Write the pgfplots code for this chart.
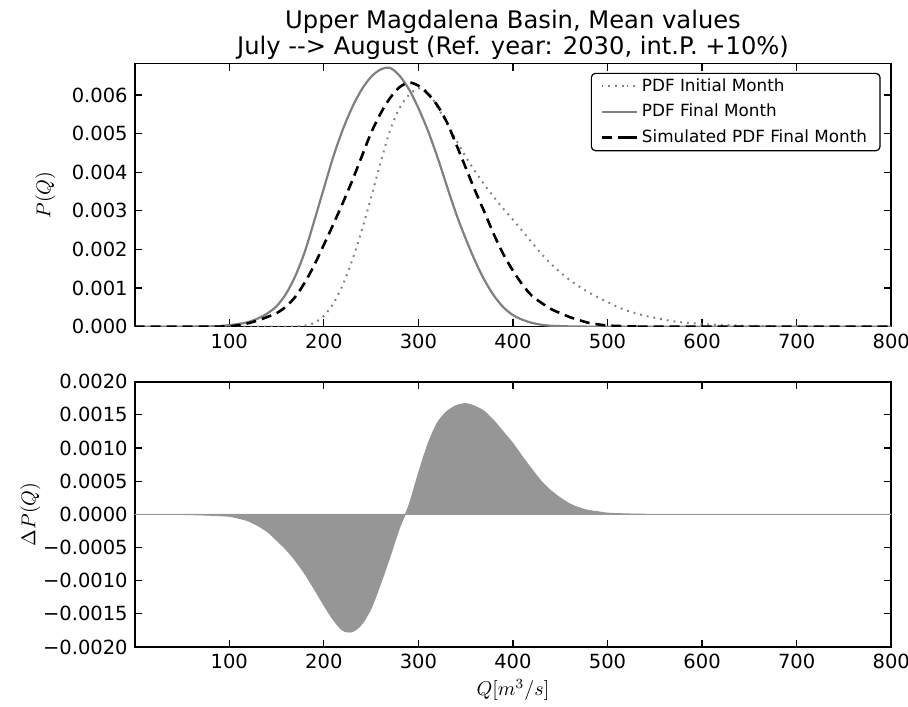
\documentclass[border=0pt]{standalone}
\usepackage{fontspec}
\setmainfont{DejaVu Sans}
\usepackage{pgfplots}
\pgfplotsset{compat=1.18}
\definecolor{lgray}{RGB}{128,128,128}
\definecolor{fgray}{RGB}{150,150,150}
\begin{document}
\begin{tikzpicture}
\path[use as bounding box] (0,0) rectangle (454pt,353pt);
\node[anchor=base, inner sep=0pt, font=\fontsize{12.1}{14}\selectfont] at (256.5pt,338.75pt) {Upper Magdalena Basin, Mean values};
\node[anchor=base, inner sep=0pt, font=\fontsize{12.1}{14}\selectfont] at (256.5pt,325.5pt) {July -\kern0pt-> August (Ref. year: 2030, int.P. +10\%)};
\pgfplotsset{
  myax/.style={
    scale only axis, width=378.25pt, anchor=south west,
    xmin=0, xmax=800,
    xtick={100,200,300,400,500,600,700,800},
    xticklabels={100,200,300,400,500,600,700,800},
    scaled y ticks=false, scaled x ticks=false,
    tick label style={font=\fontsize{9.75}{12}\selectfont},
    major tick length=3.6pt,
    tick style={black, line width=0.6pt},
    axis line style={line width=0.8pt},
    tick align=inside,
    label style={font=\fontsize{10}{12}\selectfont},
  }
}
\begin{axis}[myax, at={(67.35pt,189.65pt)}, height=131.7pt,
  ymin=0, ymax=0.00682,
  ytick={0,0.001,0.002,0.003,0.004,0.005,0.006},
  yticklabels={0.000,0.001,0.002,0.003,0.004,0.005,0.006},
  ylabel={$P(Q)$},
  ylabel style={at={(axis description cs:-0.118,0.5)}, anchor=center},
  legend style={at={(0.986,0.964)}, anchor=north east, draw=black, line width=0.6pt,
    rounded corners=2pt, font=\fontsize{8.4}{10}\selectfont,
    inner xsep=4.5pt, inner ysep=0.5pt, row sep=1pt, cells={anchor=west}},
  legend image code/.code={\draw[#1] (0pt,0pt) -- (12.5pt,0pt); \path (12.5pt,0pt) -- (17.5pt,0pt);},
  legend cell align=left,
]
\addplot[lgray, line width=1pt, dash pattern=on 0.9pt off 2.5pt, smooth] coordinates {
(0,0) (100,0) (160,0) (170,0.000005) (180,0.00003) (190,0.0001) (200,0.00028) (210,0.0006) (220,0.00108) (230,0.00172) (240,0.00248) (250,0.00335) (260,0.00425) (270,0.00508) (280,0.00566) (290,0.006) (300,0.00617) (310,0.00608) (320,0.0057) (330,0.00527) (340,0.00483) (350,0.0044) (360,0.00402) (370,0.00367) (380,0.00335) (390,0.00305) (400,0.00277) (410,0.00248) (420,0.00218) (430,0.00189) (440,0.00163) (450,0.00141) (460,0.00121) (470,0.00104) (480,0.00089) (490,0.00076) (500,0.00064) (510,0.00052) (520,0.00042) (530,0.00035) (540,0.00028) (550,0.00023) (560,0.00018) (570,0.00014) (580,0.00011) (590,0.00009) (600,0.00007) (620,0.000045) (640,0.000028) (660,0.000017) (680,0.00001) (700,0.000006) (740,0.000002) (800,0.0000005)
};
\addlegendentry{PDF Initial Month}
\addplot[lgray, line width=1.1pt, smooth] coordinates {
(0,0) (40,0.0000005) (60,0.000002) (80,0.000008) (90,0.000018) (100,0.00004) (110,0.00007) (120,0.00012) (130,0.00021) (140,0.00034) (150,0.00053) (160,0.00085) (170,0.00132) (180,0.00195) (190,0.00275) (200,0.00358) (210,0.0044) (220,0.0051) (230,0.00568) (240,0.00614) (250,0.00647) (260,0.00666) (270,0.0067) (280,0.0065) (290,0.00615) (300,0.00566) (310,0.00508) (320,0.0044) (330,0.00365) (340,0.00292) (350,0.00228) (360,0.0017) (370,0.0012) (380,0.0008) (390,0.0005) (400,0.0003) (410,0.00018) (420,0.0001) (430,0.00005) (440,0.000025) (460,0.000008) (480,0.000002) (500,0.0000005) (520,0) (800,0)
};
\addlegendentry{PDF Final Month}
\addplot[black, line width=1.3pt, dash pattern=on 5pt off 3pt, smooth] coordinates {
(0,0) (80,0) (90,0.000003) (100,0.00001) (110,0.00004) (120,0.00009) (130,0.00016) (140,0.00025) (150,0.00035) (160,0.00052) (170,0.00078) (180,0.00115) (190,0.0016) (200,0.00212) (210,0.00265) (220,0.0032) (230,0.00378) (240,0.0044) (250,0.00502) (260,0.00552) (270,0.00592) (280,0.0062) (290,0.00632) (300,0.00624) (310,0.00603) (320,0.00573) (330,0.0053) (340,0.00472) (350,0.00412) (360,0.00352) (370,0.00296) (380,0.00238) (390,0.00187) (400,0.00145) (410,0.00109) (420,0.0008) (430,0.00062) (440,0.00046) (450,0.00035) (460,0.00025) (470,0.00017) (480,0.0001) (490,0.00006) (500,0.00003) (510,0.00002) (520,0.00001) (530,0.000005) (550,0) (800,0)
};
\addlegendentry{Simulated PDF Final Month}
\end{axis}
\begin{axis}[myax, at={(67.35pt,29.5pt)}, height=132.65pt,
  ymin=-0.002, ymax=0.002,
  ytick={-0.002,-0.0015,-0.001,-0.0005,0,0.0005,0.001,0.0015,0.002},
  yticklabels={−0.0020,−0.0015,−0.0010,−0.0005,0.0000,0.0005,0.0010,0.0015,0.0020},
  ylabel={$\Delta P(Q)$},
  ylabel style={at={(axis description cs:-0.138,0.5)}, anchor=center},
  xlabel={$Q[m^3/s]$},
  xlabel style={at={(axis description cs:0.5,-0.162)}, anchor=center},
]
\addplot[fill=fgray, draw=fgray, line width=0.4pt, smooth] coordinates {
(0,0) (30,0) (40,-0.000001) (50,-0.000003) (60,-0.000006) (70,-0.00001) (80,-0.000015) (90,-0.000022) (100,-0.00003) (110,-0.00006) (120,-0.0001) (130,-0.00017) (140,-0.00026) (150,-0.00039) (160,-0.00053) (170,-0.0007) (180,-0.0009) (190,-0.00113) (200,-0.00137) (210,-0.00159) (220,-0.00175) (230,-0.00177) (240,-0.00166) (250,-0.00142) (260,-0.00105) (270,-0.00064) (280,-0.00021) (290,0.00014) (300,0.00062) (310,0.00106) (320,0.00138) (330,0.00155) (340,0.00164) (350,0.00167) (360,0.00163) (370,0.00155) (380,0.00141) (390,0.00124) (400,0.00107) (410,0.00087) (420,0.00068) (430,0.0005) (440,0.00036) (450,0.00025) (460,0.00016) (470,0.0001) (480,0.00006) (490,0.00004) (500,0.00002) (520,0.000008) (540,0.000003) (560,0.000001) (600,0) (800,0)
} \closedcycle;
\end{axis}
\end{tikzpicture}
\end{document}
